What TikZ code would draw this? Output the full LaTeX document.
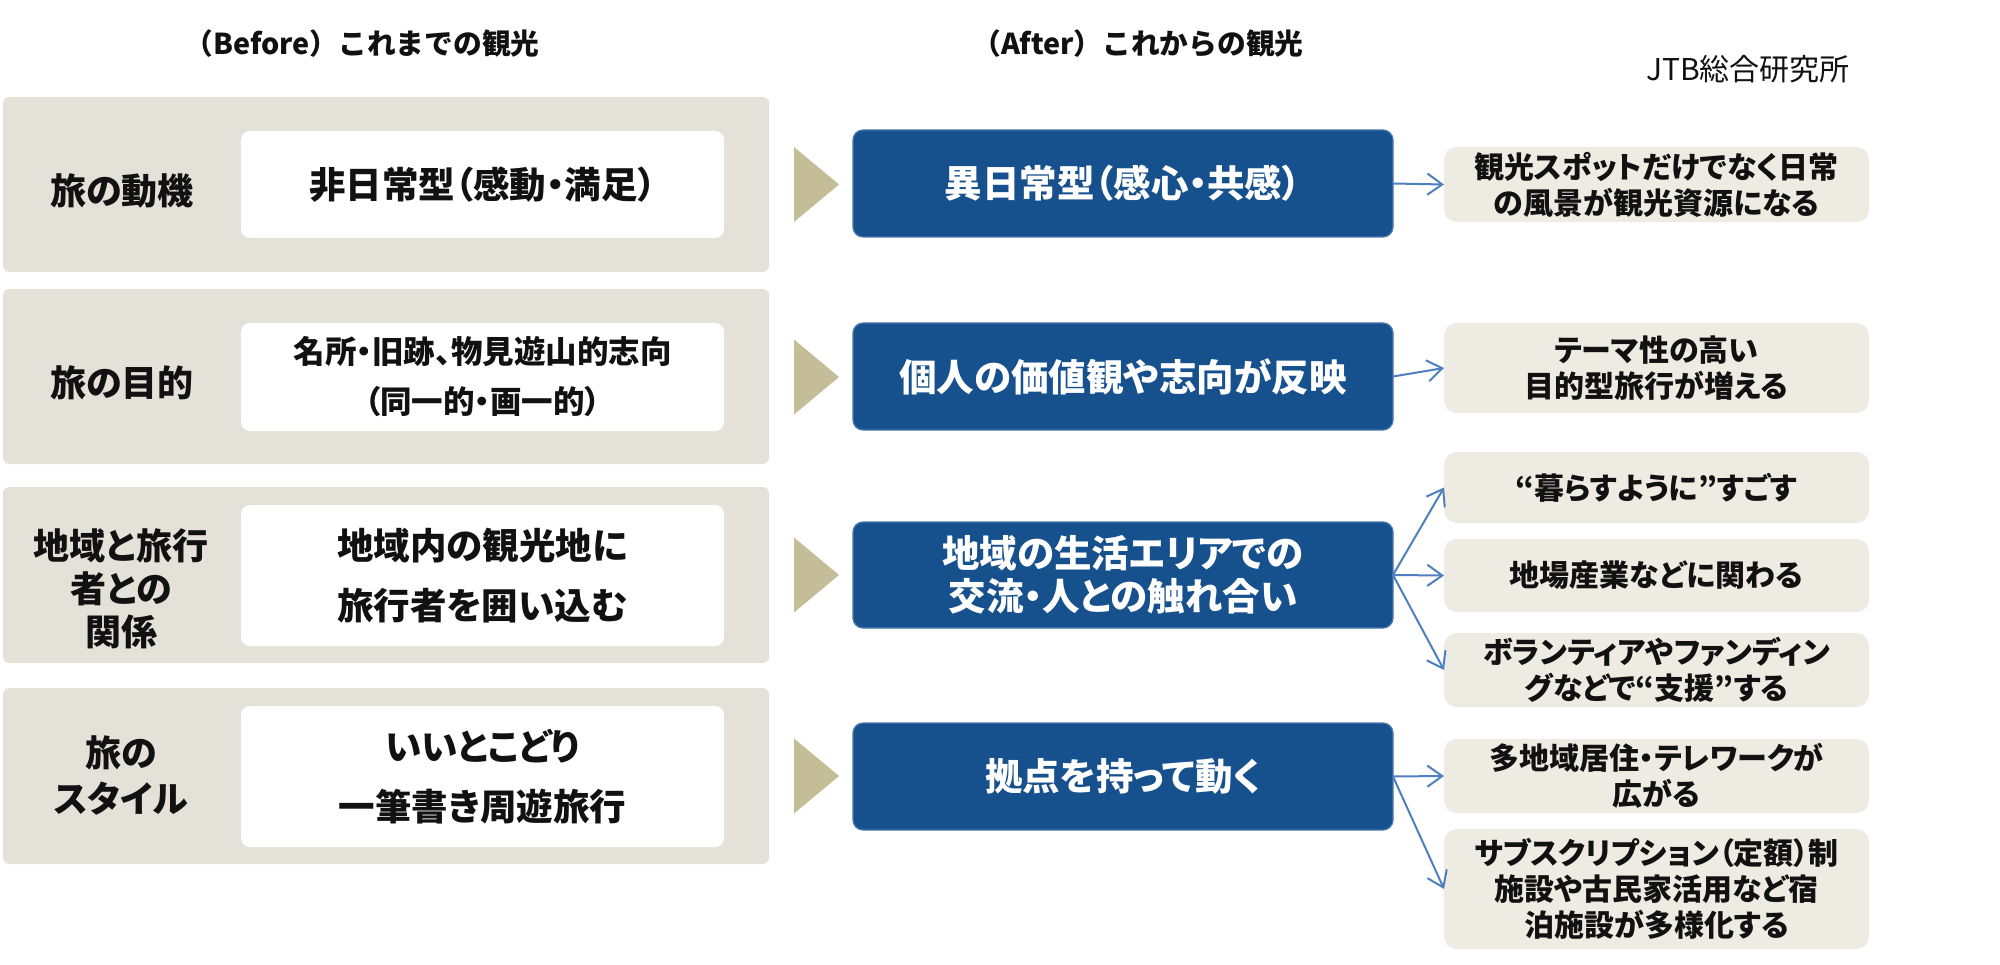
\documentclass[tikz,border=0pt]{standalone}
\usepackage{fontspec}
\setmainfont{Noto Sans CJK JP}
\newfontfamily\jpp[RawFeature=+palt]{Noto Sans CJK JP}
\usetikzlibrary{arrows.meta}
\definecolor{outerc}{HTML}{E4E1D8}
\definecolor{chevc}{HTML}{C4BD97}
\definecolor{bluec}{HTML}{16508D}
\definecolor{bluebd}{HTML}{4A78B0}
\definecolor{rightc}{HTML}{EEECE2}
\definecolor{arrc}{HTML}{4F7FBF}
\definecolor{txtc}{HTML}{111111}
\begin{document}
\begin{tikzpicture}[x=0.4pt,y=-0.4pt,
  px/.style 2 args={minimum width={#1*0.4pt}, minimum height={#2*0.4pt}},
  outerbox/.style={fill=outerc, rounded corners=2.5pt, inner sep=0pt, outer sep=0pt},
  whitebox/.style={fill=white, rounded corners=3.5pt, inner sep=0pt, outer sep=0pt, align=center, text=txtc,
    font={\jpp\bfseries\fontsize{14.6pt}{24pt}\selectfont}},
  bluebox/.style={fill=bluec, draw=bluebd, line width=0.5pt, rounded corners=4pt, inner sep=0pt, outer sep=0pt,
    align=center, text=white, font={\jpp\bfseries\fontsize{15pt}{17.2pt}\selectfont}},
  rightbox/.style={fill=rightc, rounded corners=5pt, inner sep=0pt, outer sep=0pt, align=center, text=txtc,
    font={\jpp\bfseries\fontsize{12pt}{14.4pt}\selectfont}},
  rowlabel/.style={align=center, text=txtc, inner sep=0pt, font={\jpp\bfseries\fontsize{14.4pt}{17.2pt}\selectfont}},
  title/.style={text=txtc, inner sep=0pt, font={\bfseries\fontsize{11.5pt}{13pt}\selectfont}},
  chev/.style={fill=chevc},
  conn/.style={draw=arrc, line width=0.8pt, -{Straight Barb[length=6pt,width=8.5pt,line width=0.8pt]}}
]
\useasboundingbox (0,0) rectangle (2000,965);

% titles
\node[title] (tb) at (362,44) {（Before）これまでの観光};
\node[title] (ta) at (1138,44) {（After）これからの観光};
\node[text=txtc, inner sep=0pt, font={\fontsize{12pt}{14pt}\selectfont}] (src) at (1748,69) {JTB総合研究所};

% outer boxes
\node[outerbox, px={766}{175}] (o1) at (386,184.5) {};
\node[outerbox, px={766}{175}] (o2) at (386,376.5) {};
\node[outerbox, px={766}{176}] (o3) at (386,575) {};
\node[outerbox, px={766}{176}] (o4) at (386,776) {};

% row labels
\node[rowlabel] (l1) at (122,191) {旅の動機};
\node[rowlabel] (l2) at (122,383) {旅の目的};
\node[rowlabel] (l3) at (121,589) {地域と旅行\\者との\\関係};
\node[rowlabel, font={\jpp\bfseries\fontsize{14.4pt}{18.4pt}\selectfont}] (l4) at (121,775) {旅の\\スタイル};

% white boxes
\node[whitebox, px={483}{107}] (w1) at (482.5,184.5) {非日常型（感動・満足）};
\node[whitebox, px={483}{108}, font={\jpp\bfseries\fontsize{12.6pt}{20pt}\selectfont}] (w2) at (482.5,377) {名所・旧跡、物見遊山的志向\\（同一的・画一的）};
\node[whitebox, px={483}{141}] (w3) at (482.5,575.5) {地域内の観光地に\\旅行者を囲い込む};
\node[whitebox, px={483}{141}] (w4) at (482.5,776.5) {いいとこどり\\一筆書き周遊旅行};

% chevrons
\foreach \cy in {184.5,377,575,776}{
  \fill[chev] (794,{\cy-37.5}) -- (839,\cy) -- (794,{\cy+37.5}) -- cycle;
}

% blue boxes
\node[bluebox, px={540}{107}] (b1) at (1123,183.5) {異日常型（感心・共感）};
\node[bluebox, px={540}{107}] (b2) at (1123,376.5) {個人の価値観や志向が反映};
\node[bluebox, px={540}{106}] (b3) at (1123,575) {地域の生活エリアでの\\交流・人との触れ合い};
\node[bluebox, px={540}{107}] (b4) at (1123,776.5) {拠点を持って動く};

% right boxes
\node[rightbox, px={425}{75}] (r1) at (1656.5,184.5) {観光スポットだけでなく日常\\の風景が観光資源になる};
\node[rightbox, px={425}{90}] (r2) at (1656.5,368) {テーマ性の高い\\目的型旅行が増える};
\node[rightbox, px={425}{71}] (r3a) at (1656.5,487.5) {“暮らすように”すごす};
\node[rightbox, px={425}{73}] (r3b) at (1656.5,575.5) {地場産業などに関わる};
\node[rightbox, px={425}{74}] (r3c) at (1656.5,670) {ボランティアやファンディン\\グなどで“支援”する};
\node[rightbox, px={425}{74}] (r4d) at (1656.5,776) {多地域居住・テレワークが\\広がる};
\node[rightbox, px={425}{120}] (r4e) at (1656.5,889) {サブスクリプション（定額）制\\施設や古民家活用など宿\\泊施設が多様化する};

% connectors
\draw[conn] (b1.east) -- (r1.west);
\draw[conn] (b2.east) -- (r2.west);
\draw[conn] (b3.east) -- (r3a.west);
\draw[conn] (b3.east) -- (r3b.west);
\draw[conn] (b3.east) -- (r3c.west);
\draw[conn] (b4.east) -- (r4d.west);
\draw[conn] (b4.east) -- (r4e.west);
\end{tikzpicture}
\end{document}
